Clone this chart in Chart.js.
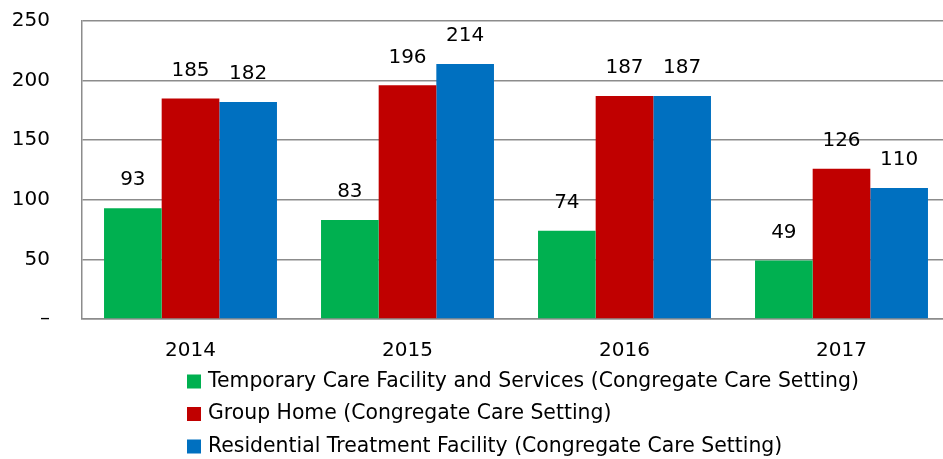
<!DOCTYPE html>
<html>
<head>
<meta charset="utf-8">
<script src="https://cdn.jsdelivr.net/npm/chart.js@4/dist/chart.umd.min.js"></script>
<style>
  html, body { margin: 0; padding: 0; background: #fff; overflow: hidden; }
  #wrap { width: 943px; height: 459px; overflow: hidden; }
  /* the original plot runs a little past the right edge of the picture */
  #inner { width: 950px; height: 459px; }
</style>
</head>
<body>
<div id="wrap"><div id="inner"><canvas id="myChart"></canvas></div></div>
<script>
// data
var years = ["2014", "2015", "2016", "2017"];
var temporaryCare = [93, 83, 74, 49];
var groupHome = [185, 196, 187, 126];
var residential = [182, 214, 187, 110];
var yTicks = [0, 50, 100, 150, 200, 250];

var seriesNames = [
    "Temporary Care Facility and Services (Congregate Care Setting)",
    "Group Home (Congregate Care Setting)",
    "Residential Treatment Facility (Congregate Care Setting)",
];

var fontFamily = "'DejaVu Sans', Verdana, sans-serif";

// value labels above bars
const valueLabels = {
    id: "valueLabels",
    afterDatasetsDraw(chart) {
        const ctx = chart.ctx;
        ctx.save();
        ctx.font = "20px " + fontFamily;
        ctx.fillStyle = "#000";
        ctx.textAlign = "center";
        ctx.textBaseline = "middle";
        chart.data.datasets.forEach(function (ds, i) {
            chart.getDatasetMeta(i).data.forEach(function (bar, j) {
                ctx.fillText(ds.data[j], bar.x, bar.y - 28);
            });
        });
        ctx.restore();
    },
};

// legend, one entry per line, left aligned
const listLegend = {
    id: "listLegend",
    afterDraw(chart) {
        const ctx = chart.ctx;
        const x = chart.chartArea.left + 105;
        let y = chart.chartArea.bottom + 62.5;
        ctx.save();
        ctx.font = "20.4px " + fontFamily;
        ctx.textBaseline = "middle";
        chart.data.datasets.forEach(function (ds) {
            ctx.fillStyle = ds.backgroundColor;
            ctx.fillRect(x, y - 7, 14, 14);
            ctx.fillStyle = "#000";
            ctx.fillText(ds.label, x + 21, y);
            y += 32.5;
        });
        ctx.restore();
    },
};

const ctx = document.getElementById("myChart");
new Chart(ctx, {
    type: "bar",
    data: {
        labels: years,
        datasets: [
            { label: seriesNames[0], data: temporaryCare, backgroundColor: "#00B050" },
            { label: seriesNames[1], data: groupHome, backgroundColor: "#C00000" },
            { label: seriesNames[2], data: residential, backgroundColor: "#0070C0" },
        ],
    },
    options: {
        responsive: true,
        maintainAspectRatio: false,
        animation: false,
        datasets: {
            bar: { categoryPercentage: 0.797, barPercentage: 1.0 },
        },
        layout: {
            padding: { left: 12, right: 0, top: 21, bottom: 97 },
        },
        plugins: {
            legend: { display: false },
            tooltip: { enabled: false },
        },
        scales: {
            x: {
                grid: { display: false, drawTicks: false },
                border: { display: true, color: "#8c8c8c", width: 1.5 },
                ticks: {
                    color: "#000",
                    padding: 20,
                    font: { family: fontFamily, size: 20 },
                },
                afterFit: function (scale) {
                    scale.height = 43;
                    scale.paddingLeft = 0;
                    scale.paddingRight = 0;
                },
            },
            y: {
                min: 0,
                max: 250,
                afterBuildTicks: function (scale) {
                    scale.ticks = yTicks.map(function (v) { return { value: v }; });
                },
                grid: { color: "#8c8c8c", lineWidth: 1.5, drawTicks: false },
                border: { display: true, color: "#8c8c8c", width: 1.5 },
                ticks: {
                    color: "#000",
                    padding: 32,
                    font: { family: fontFamily, size: 20 },
                    callback: function (v) { return v === 0 ? "\u2013" : v; },
                },
                afterFit: function (scale) {
                    scale.width = 70;
                    scale.paddingTop = 0;
                    scale.paddingBottom = 0;
                },
            },
        },
    },
    plugins: [valueLabels, listLegend],
});
</script>
</body>
</html>
